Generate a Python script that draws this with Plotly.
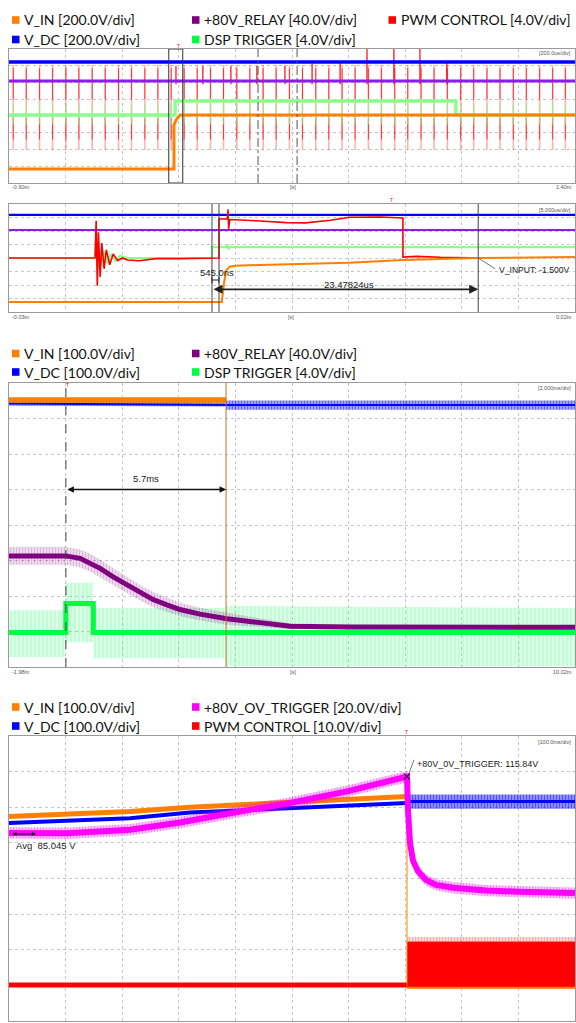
import plotly.graph_objects as go

W, H = 576, 1023

# ======================= DATA (values in screen divisions, 0..8) =======================
# ---- Panel 1 : 200 us/div, time in us ----
p1_vdc_t = [-600, 1400]
p1_vdc_v = [7.22, 7.22]
p1_relay_t = [-600, 1400]
p1_relay_v = [6.09, 6.09]
p1_dsp_t = [-600, -13, -13, 979, 979, 1400]
p1_dsp_v = [4.06, 4.06, 4.90, 4.90, 4.06, 4.06]
p1_vin_t = [-600, -17, -17, -10, 4, 1400]
p1_vin_v = [0.84, 0.84, 3.45, 3.75, 4.06, 4.06]
p1_pwm_t = [-585, -539, -492, -446, -399, -353, -306, -260, -213, -167, -120, -74, -27,
            19, 65, 112, 158, 205, 251, 298, 344, 391, 437, 484, 530, 577, 623, 670, 716,
            763, 809, 856, 902, 949, 996, 1042, 1089, 1135, 1182, 1228, 1275, 1321, 1366]
p1_pwm_lo = 1.97
p1_pwm_hi = 7.04
p1_blip_t = [-10, 85, 184, 276, 375, 471, 570, 665, 760, 852, 947]
p1_blip_top = [7.0, 7.0, 7.0, 7.0, 7.0, 7.2, 7.2, 8.0, 8.0, 8.0, 7.2]
p1_zoom_box = [-35.5, 14.0]
p1_cursors = [280, 418]

# ---- Panel 2 : 5 us/div, time in us ----
p2_vdc_v = 7.19
p2_relay_v = 6.07
p2_dsp_t = [-30, -22.4, -22.3, -22.15, -22.0, -21.8, -21.6, -21.3, -21.0, -20.6, -20.2, -19.5,
            -12.07, -12.07, -10.8, -10.7, -10.6, -10.5, 20]
p2_dsp_v = [4.0, 4.0, 5.0, 3.1, 4.7, 3.4, 4.5, 3.6, 4.3, 3.8, 4.15, 4.0,
            4.0, 4.81, 4.81, 5.0, 4.65, 4.81, 4.81]
p2_pwm_t = [-30, -22.4, -22.3, -22.2, -22.1, -21.95, -21.8, -21.6, -21.4, -21.1, -20.8, -20.4,
            -20, -19.5, -18.5, -17, -15, -12.5, -11.45, -11.45, -11.0, -10.7, -10.65, -10.6,
            -10.5, -9.5, -7.8, -5.5, -3.8, -1.6, 0.1, 2.8, 4.8, 4.8, 6, 8.1, 12]
p2_pwm_v = [4.0, 4.0, 6.75, 1.95, 5.9, 2.6, 5.1, 3.2, 4.6, 3.5, 4.3, 3.8,
            4.0, 3.85, 3.8, 3.95, 3.95, 4.0, 4.0, 6.89, 6.89, 6.9, 7.6, 6.15,
            6.85, 6.82, 6.74, 6.62, 6.6, 6.8, 7.02, 7.04, 6.96, 4.07, 4.12, 4.05, 4.0]
p2_vin_t = [-30, -11.2, -11.0, -10.8, -10.5, -10.0, -7.0, -4.3, 0, 4.8, 11.45, 20]
p2_vin_v = [0.74, 0.74, 2.2, 3.1, 3.35, 3.43, 3.5, 3.55, 3.65, 3.85, 4.0, 4.07]
p2_cursors = [-12.07, -11.45, 11.45]

# ---- Panel 3 : 2 ms/div, time in ms ----
p3_vin_t = [-1.98, 5.69]
p3_vin_v = [7.52, 7.52]
p3_vdc_t = [-1.98, 5.69, 5.69, 18.02]
p3_vdc_v = [7.42, 7.40, 7.38, 7.38]
p3_vdc_noise = [0.06, 0.06, 0.13, 0.13]
p3_relay_t = [-1.98, 0.03, 0.53, 0.88, 1.24, 1.70, 2.19, 2.65, 3.11, 3.60, 4.06, 4.77,
              5.72, 6.89, 7.95, 10.03, 18.02]
p3_relay_v = [3.13, 3.13, 3.06, 2.94, 2.78, 2.54, 2.31, 2.09, 1.90, 1.75, 1.62, 1.49,
              1.36, 1.25, 1.15, 1.13, 1.12]
p3_relay_noise = [0.25, 0.25, 0.25, 0.25, 0.25, 0.24, 0.23, 0.22, 0.21, 0.2, 0.19, 0.18,
                  0.17, 0.12, 0.08, 0.06, 0.06]
p3_dsp_t = [-1.98, 0.03, 0.03, 1.0, 1.0, 18.02]
p3_dsp_v = [0.97, 0.97, 1.79, 1.79, 0.97, 0.97]
p3_dsp_env_t = [-1.98, 0.03, 0.03, 1.0, 1.0, 5.69, 5.69, 18.02]
p3_dsp_env_hi = [1.60, 1.60, 2.37, 2.37, 1.66, 1.66, 1.72, 1.66]
p3_dsp_env_lo = [0.28, 0.28, 0.70, 0.70, 0.25, 0.25, 0.02, 0.02]
p3_cursors = [0.03, 5.69]

# ---- Panel 4 : 100 ms/div, time in ms ----
p4_trip_t = 703.2
p4_vin_t = [0, 213.8, 319.8, 489.4, 703.2]
p4_vin_v = [5.74, 5.88, 6.00, 6.13, 6.30]
p4_vin_after_v = 0.98
p4_vdc_t = [0, 213.8, 319.8, 489.4, 703.2]
p4_vdc_v = [5.56, 5.69, 5.85, 5.98, 6.12]
p4_vdc_after_v = 6.16
p4_ov_t = [0, 102.5, 213.8, 302, 408, 489.4, 595.4, 703.2, 705, 708.5, 713.8, 722.6,
           736.7, 754.4, 784.5, 842.8, 901, 1000]
p4_ov_v = [5.28, 5.27, 5.37, 5.57, 5.88, 6.10, 6.44, 6.86, 5.9, 5.0, 4.5, 4.2,
           3.96, 3.82, 3.74, 3.66, 3.63, 3.59]
p4_pwm_before_v = 1.01
p4_pwm_band = [0.92, 2.23]

# ======================= STYLE / LAYOUT HELPERS =======================
C_ORANGE = "#ff8000"
C_BLUE = "#0000ff"
C_VIOLET = "#8a1ee6"
C_PURPLE = "#800080"
C_GREEN = "#00ff40"
C_LGREEN = "#8cff8c"
C_RED = "#ff0000"
C_MAG = "#ff00ff"

XL, XR = 9, 575
panels_px = [(49, 183), (204, 312), (383, 667), (736, 1021)]
xranges = [[-600, 1400], [-30, 20], [-1.98, 18.02], [0, 1000]]
xdticks = [200, 5, 2, 100]


def px_x(x):
    return x / W


def px_y(y):
    return 1 - y / H


fig = go.Figure()


def line(i, x, y, color, width, dash=None, opacity=1.0):
    fig.add_trace(go.Scatter(x=x, y=y, mode="lines", xaxis=f"x{i}", yaxis=f"y{i}",
                             line=dict(color=color, width=width, dash=dash),
                             opacity=opacity, hoverinfo="skip", showlegend=False))


def band(i, t, center, half, color, pattern=None):
    up = [c + h for c, h in zip(center, half)]
    lo = [c - h for c, h in zip(center, half)]
    kw = {}
    if pattern:
        kw["fillpattern"] = pattern
    fig.add_trace(go.Scatter(x=list(t) + list(t)[::-1], y=up + lo[::-1], mode="lines",
                             xaxis=f"x{i}", yaxis=f"y{i}", fill="toself", fillcolor=color,
                             line=dict(width=0), hoverinfo="skip", showlegend=False, **kw))


def env(i, t, hi, lo, color, pattern=None):
    kw = {}
    if pattern:
        kw["fillpattern"] = pattern
    fig.add_trace(go.Scatter(x=list(t) + list(t)[::-1], y=list(hi) + list(lo)[::-1],
                             mode="lines", xaxis=f"x{i}", yaxis=f"y{i}", fill="toself",
                             fillcolor=color, line=dict(width=0), hoverinfo="skip",
                             showlegend=False, **kw))


def segs(ts, lo, hi):
    xs, ys = [], []
    for k, t in enumerate(ts):
        l = lo[k] if isinstance(lo, list) else lo
        h = hi[k] if isinstance(hi, list) else hi
        xs += [t, t, None]
        ys += [l, h, None]
    return xs, ys


# ======================= PANEL 1 =======================
x, y = segs(p1_pwm_t, p1_pwm_lo, p1_pwm_hi)
line(1, x, y, "rgba(255,0,0,0.3)", 1.6)
x, y = segs(p1_pwm_t, 5.0, 6.85)
line(1, x, y, "rgba(255,0,0,0.7)", 1)
x, y = segs(p1_pwm_t, 2.6, 3.9)
line(1, x, y, "rgba(255,0,0,0.7)", 1)
x, y = segs(p1_blip_t, 5.9, p1_blip_top)
line(1, x, y, "rgba(255,0,0,0.85)", 1.4)
x, y = segs(p1_pwm_t, 3.5, 4.7)
line(1, x, y, "rgba(120,255,120,0.7)", 1.2)
line(1, p1_dsp_t, p1_dsp_v, C_LGREEN, 3.5)
line(1, p1_vin_t, p1_vin_v, C_ORANGE, 3)
line(1, p1_relay_t, p1_relay_v, C_VIOLET, 3)
line(1, p1_vdc_t, p1_vdc_v, C_BLUE, 3.5)

# ======================= PANEL 2 =======================
line(2, [-30, 20], [p2_vdc_v, p2_vdc_v], C_BLUE, 2.2)
line(2, [-30, 20], [p2_relay_v, p2_relay_v], C_VIOLET, 2)
line(2, p2_dsp_t, p2_dsp_v, C_LGREEN, 2.2)
line(2, p2_pwm_t, p2_pwm_v, C_RED, 1.6)
line(2, p2_vin_t, p2_vin_v, C_ORANGE, 2)

# ======================= PANEL 3 =======================
env(3, p3_dsp_env_t, p3_dsp_env_hi, p3_dsp_env_lo, "rgba(0,255,80,0.12)",
    pattern=dict(shape="|", fgcolor="rgba(60,255,120,0.6)", size=4, solidity=0.35))
band(3, p3_relay_t, p3_relay_v, p3_relay_noise, "rgba(128,0,128,0.12)",
     pattern=dict(shape="|", fgcolor="rgba(150,40,150,0.45)", size=3, solidity=0.4))
line(3, p3_relay_t, p3_relay_v, C_PURPLE, 5)
line(3, p3_dsp_t, p3_dsp_v, C_GREEN, 5)
band(3, p3_vdc_t, p3_vdc_v, p3_vdc_noise, "rgba(0,0,255,0.35)",
     pattern=dict(shape="|", fgcolor="rgba(0,0,255,0.8)", size=3, solidity=0.4))
line(3, p3_vdc_t, p3_vdc_v, C_BLUE, 2)
line(3, p3_vin_t, p3_vin_v, C_ORANGE, 5.5)

# ======================= PANEL 4 =======================
line(4, [0, p4_trip_t], [p4_pwm_before_v, p4_pwm_before_v], C_RED, 5)
env(4, [p4_trip_t, 1000], [p4_pwm_band[1], p4_pwm_band[1]],
    [p4_pwm_band[0], p4_pwm_band[0]], C_RED)
env(4, [p4_trip_t, 1000], [p4_pwm_band[1] + 0.13, p4_pwm_band[1] + 0.13],
    [p4_pwm_band[1], p4_pwm_band[1]], "rgba(255,0,0,0.15)",
    pattern=dict(shape="|", fgcolor="rgba(255,60,60,0.6)", size=3, solidity=0.35))
band(4, [p4_trip_t, 1000], [p4_vdc_after_v, p4_vdc_after_v], [0.2, 0.2], "rgba(0,0,255,0.4)",
     pattern=dict(shape="|", fgcolor="rgba(0,0,255,0.9)", size=3, solidity=0.45))
line(4, [p4_trip_t, 1000], [p4_vdc_after_v, p4_vdc_after_v], C_BLUE, 3)
line(4, p4_vdc_t, p4_vdc_v, C_BLUE, 4)
line(4, p4_vin_t, p4_vin_v, C_ORANGE, 5)
line(4, [p4_trip_t, p4_trip_t], [p4_vin_v[-1], p4_vin_after_v], C_ORANGE, 1)
line(4, [p4_trip_t, 1000], [p4_vin_after_v - 0.05, p4_vin_after_v - 0.05], C_ORANGE, 2)
band(4, p4_ov_t, p4_ov_v, [0.16] * len(p4_ov_t), "rgba(255,0,255,0.2)",
     pattern=dict(shape="|", fgcolor="rgba(255,0,255,0.7)", size=3, solidity=0.4))
line(4, p4_ov_t, p4_ov_v, C_MAG, 6)
fig.add_trace(go.Scatter(x=[p4_trip_t], y=[p4_ov_v[7]], mode="markers", xaxis="x4", yaxis="y4",
                         marker=dict(symbol="x-thin", size=6, line=dict(color="#222", width=1.2)),
                         hoverinfo="skip", showlegend=False))

# ======================= AXES =======================
layout = dict(width=W, height=H, margin=dict(l=0, r=0, t=0, b=0), autosize=False,
              paper_bgcolor="white", plot_bgcolor="white", showlegend=False)
for k in range(4):
    i = k + 1
    top, bot = panels_px[k]
    xs = "xaxis" if i == 1 else f"xaxis{i}"
    ys = "yaxis" if i == 1 else f"yaxis{i}"
    layout[xs] = dict(domain=[px_x(XL), px_x(XR)], range=xranges[k], tick0=xranges[k][0],
                      dtick=xdticks[k], showgrid=True, griddash="dot", gridcolor="#c6c6c6",
                      gridwidth=1, showticklabels=False, ticks="", zeroline=False,
                      showline=True, mirror=True, linecolor="#9a9a9a", linewidth=1,
                      anchor=f"y{i}", fixedrange=True)
    layout[ys] = dict(domain=[px_y(bot), px_y(top)], range=[0, 8], tick0=0, dtick=1,
                      showgrid=True, griddash="dot", gridcolor="#c6c6c6", gridwidth=1,
                      showticklabels=False, ticks="", zeroline=False, showline=True,
                      mirror=True, linecolor="#9a9a9a", linewidth=1, anchor=f"x{i}",
                      fixedrange=True)
fig.update_layout(**layout)

shapes = []
ann = []

# cursors and boxes
for t in p1_cursors:
    shapes.append(dict(type="line", xref="x", yref="y", x0=t, x1=t, y0=0, y1=8,
                       line=dict(color="#555", width=1, dash="dashdot")))
shapes.append(dict(type="rect", xref="x", yref="y", x0=p1_zoom_box[0], x1=p1_zoom_box[1],
                   y0=0, y1=8, line=dict(color="#333", width=1)))
for t in p2_cursors:
    shapes.append(dict(type="line", xref="x2", yref="y2", x0=t, x1=t, y0=0, y1=8,
                       line=dict(color="#444", width=1)))
shapes.append(dict(type="line", xref="x3", yref="y3", x0=p3_cursors[0], x1=p3_cursors[0],
                   y0=0, y1=8, line=dict(color="#444", width=1, dash="dash")))
shapes.append(dict(type="line", xref="x3", yref="y3", x0=p3_cursors[1], x1=p3_cursors[1],
                   y0=0, y1=8, line=dict(color="#c0702a", width=1)))

# panel 2 "H" bracket
for t in p2_cursors[:2]:
    shapes.append(dict(type="line", xref="x2", yref="y2", x0=t, x1=t, y0=2.13, y1=2.62,
                       line=dict(color="#222", width=1)))
shapes.append(dict(type="line", xref="x2", yref="y2", x0=p2_cursors[0], x1=p2_cursors[1],
                   y0=2.37, y1=2.37, line=dict(color="#222", width=1)))
# panel 2 leader line
shapes.append(dict(type="line", xref="x2", yref="y2", x0=11.45, x1=12.95, y0=4.0, y1=3.2,
                   line=dict(color="#555", width=0.8)))
# panel 4 leader line
shapes.append(dict(type="line", xref="x4", yref="y4", x0=706.5, x1=715.5, y0=6.94, y1=7.33,
                   line=dict(color="#555", width=0.8)))

# arrows
ann.append(dict(xref="x2", yref="y2", axref="x2", ayref="y2", x=p2_cursors[2], y=1.68,
                ax=p2_cursors[0], ay=1.68, text="", showarrow=True, arrowhead=2,
                arrowside="end+start", arrowsize=1, arrowwidth=1.8, arrowcolor="#222"))
ann.append(dict(xref="x3", yref="y3", axref="x3", ayref="y3", x=p3_cursors[1], y=5.0,
                ax=p3_cursors[0], ay=5.0, text="", showarrow=True, arrowhead=2,
                arrowside="end+start", arrowsize=1, arrowwidth=1.3, arrowcolor="#111"))
ann.append(dict(xref="x4", yref="y4", axref="x4", ayref="y4", x=47.7, y=5.25,
                ax=3.5, ay=5.25, text="", showarrow=True, arrowhead=2,
                arrowside="end+start", arrowsize=0.8, arrowwidth=1, arrowcolor="#111"))

SMALLF = dict(family="Liberation Sans, Arial", size=9.5, color="#222")
ann.append(dict(xref="x2", yref="y2", x=-11.6, y=2.96, text="545.0ns", showarrow=False,
                font=SMALLF, xanchor="center", yanchor="middle"))
ann.append(dict(xref="x2", yref="y2", x=0.03, y=2.07, text="23.47824us", showarrow=False,
                font=SMALLF, xanchor="center", yanchor="middle"))
ann.append(dict(xref="x2", yref="y2", x=13.1, y=3.11, text="V_INPUT: -1.500V", showarrow=False,
                font=dict(family="Liberation Sans, Arial", size=8.6, color="#222"),
                xanchor="left", yanchor="middle"))
ann.append(dict(xref="x3", yref="y3", x=2.86, y=5.3, text="5.7ms", showarrow=False,
                font=SMALLF, xanchor="center", yanchor="middle"))
ann.append(dict(xref="x4", yref="y4", x=8.8, y=4.94, text="Avg  85.045 V", showarrow=False,
                font=SMALLF, xanchor="left", yanchor="middle"))
ann.append(dict(xref="x4", yref="y4", x=717, y=7.22, text="+80V_0V_TRIGGER: 115.84V",
                showarrow=False, font=dict(family="Liberation Sans, Arial", size=9, color="#222"),
                xanchor="left", yanchor="middle"))

# tiny scope labels
TINY = dict(family="Liberation Sans, Arial", size=5.5, color="#555")
tiny_labels = [
    ("[200.0us/div]", 573, 53, "right"), ("-0.60m", 10, 187, "left"), ("[s]", 293, 187, "center"),
    ("1.40m", 574, 187, "right"),
    ("[5.000us/div]", 573, 210, "right"), ("-0.03m", 10, 317, "left"), ("[s]", 291, 317, "center"),
    ("0.02m", 574, 317, "right"),
    ("[2.000ms/div]", 573, 388, "right"), ("-1.98m", 10, 672, "left"), ("[s]", 293, 672, "center"),
    ("10.02m", 574, 672, "right"),
    ("[100.0ms/div]", 573, 742, "right"),
]
for txt, xp, yp, anc in tiny_labels:
    ann.append(dict(xref="paper", yref="paper", x=px_x(xp), y=px_y(yp), text=txt,
                    showarrow=False, font=TINY, xanchor=anc, yanchor="middle"))

# trigger markers
for xp, yp in [(178, 46), (391, 200), (67, 385), (406, 732)]:
    ann.append(dict(xref="paper", yref="paper", x=px_x(xp), y=px_y(yp), text="T",
                    showarrow=False, font=dict(family="Liberation Sans", size=5, color=C_RED),
                    xanchor="center", yanchor="middle"))

# channel legends
LEGF = dict(family="Lato", size=14, color="#111")
legend_rows = [
    [(C_ORANGE, "V_IN [200.0V/div]", 12, 20), (C_PURPLE, "+80V_RELAY [40.0V/div]", 192, 20),
     (C_RED, "PWM CONTROL [4.0V/div]", 388.5, 20),
     (C_BLUE, "V_DC [200.0V/div]", 12, 39.5), (C_GREEN, "DSP TRIGGER [4.0V/div]", 192, 39.5)],
    [(C_ORANGE, "V_IN [100.0V/div]", 12, 353.5), (C_PURPLE, "+80V_RELAY [40.0V/div]", 192, 353.5),
     (C_BLUE, "V_DC [100.0V/div]", 12, 372), (C_GREEN, "DSP TRIGGER [4.0V/div]", 192, 372)],
    [(C_ORANGE, "V_IN [100.0V/div]", 12, 707), (C_MAG, "+80V_OV_TRIGGER [20.0V/div]", 192, 707),
     (C_BLUE, "V_DC [100.0V/div]", 12, 726), (C_RED, "PWM CONTROL [10.0V/div]", 192, 726)],
]
for row in legend_rows:
    for col, txt, xp, yp in row:
        shapes.append(dict(type="rect", xref="paper", yref="paper", x0=px_x(xp), x1=px_x(xp + 7.5),
                           y0=px_y(yp + 3.8), y1=px_y(yp - 3.8), fillcolor=col, line=dict(width=0)))
        ann.append(dict(xref="paper", yref="paper", x=px_x(xp + 10.3), y=px_y(yp), text=txt,
                        showarrow=False, font=LEGF, xanchor="left", yanchor="middle"))

fig.update_layout(shapes=shapes, annotations=ann)
fig.write_html("out.html", config={"displayModeBar": False},
               post_script="document.body.style.margin='0';document.body.style.overflow='hidden';")
